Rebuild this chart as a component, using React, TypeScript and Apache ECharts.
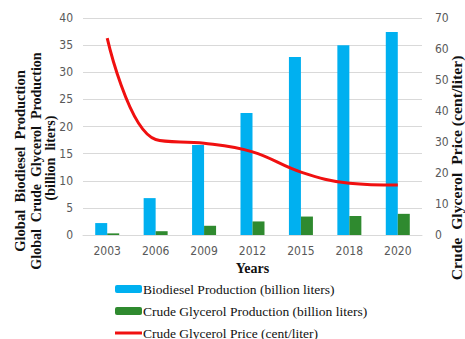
import React, { useEffect, useRef } from "react";
import * as echarts from "echarts";

const years = ["2003", "2006", "2009", "2012", "2015", "2018", "2020"];
const biodiesel = [2.2, 6.8, 16.6, 22.5, 32.8, 35.0, 37.4];
const glycerol = [0.3, 0.7, 1.7, 2.5, 3.4, 3.5, 3.9];
const price = [63.5, 30.8, 29.6, 26.8, 20.3, 16.7, 16.1];

const leftTitle1 = "Global  Biodiesel  Production";
const leftTitle2 = "Global  Crude  Glycerol  Production";
const leftTitle3 = "(billion  liters)";
const rightTitle = "Crude  Glycerol  Price (cent/liter)";
const xTitle = "Years";
const names = [
  "Biodiesel Production (billion liters)",
  "Crude Glycerol Production (billion liters)",
  "Crude Glycerol Price (cent/liter)",
];

const tickFont = "'Liberation Sans Narrow', 'DejaVu Sans Condensed', sans-serif";
const serif = "'Liberation Serif', 'Times New Roman', serif";

const legendBase = {
  orient: "horizontal",
  left: 115,
  padding: 0,
  itemWidth: 27,
  textStyle: {
    fontFamily: serif,
    fontSize: 13.5,
    lineHeight: 16,
    color: "#111",
    padding: [0, 0, 0, -4],
  },
};

function titleText(text: string, x: number, y: number, sx: number) {
  return {
    type: "text",
    x,
    y,
    rotation: Math.PI / 2,
    scaleX: sx,
    style: {
      text,
      fontFamily: serif,
      fontWeight: "bold",
      fontSize: 14,
      fill: "#111",
      align: "center",
      verticalAlign: "middle",
    },
  };
}

export default function App() {
  const ref = useRef<HTMLDivElement>(null);
  useEffect(() => {
    document.body.style.margin = "0";
    const chart = echarts.init(ref.current!, undefined, { renderer: "svg" });
    chart.setOption({
      animation: false,
      grid: { left: 83, right: 43, top: 18, bottom: 104 },
      xAxis: {
        type: "category",
        data: years,
        axisTick: { show: false },
        axisLine: { lineStyle: { color: "#d9d9d9" } },
        axisLabel: { color: "#595959", fontFamily: tickFont, fontSize: 12, margin: 10 },
        name: xTitle,
        nameLocation: "middle",
        nameGap: 26,
        nameTextStyle: { fontFamily: serif, fontWeight: "bold", fontSize: 14, color: "#111" },
      },
      yAxis: [
        {
          type: "value",
          min: 0,
          max: 40,
          interval: 5,
          axisLine: { show: false },
          axisTick: { show: false },
          splitLine: { lineStyle: { color: "#d9d9d9" } },
          axisLabel: { color: "#595959", fontFamily: tickFont, fontSize: 12, margin: 10 },
        },
        {
          type: "value",
          min: 0,
          max: 70,
          interval: 10,
          axisLine: { show: false },
          axisTick: { show: false },
          splitLine: { show: false },
          axisLabel: { color: "#595959", fontFamily: tickFont, fontSize: 12, margin: 13 },
        },
      ],
      legend: [
        { ...legendBase, top: 281, itemHeight: 8, data: [names[0]] },
        { ...legendBase, top: 303, itemHeight: 8, data: [names[1]] },
        { ...legendBase, top: 325, itemHeight: 3, icon: "rect", data: [names[2]] },
      ],
      series: [
        {
          name: names[0],
          type: "bar",
          data: biodiesel,
          barWidth: 12,
          barGap: "0%",
          itemStyle: { color: "#00b0f0" },
        },
        {
          name: names[1],
          type: "bar",
          data: glycerol,
          barWidth: 12,
          barGap: "0%",
          itemStyle: { color: "#2f8a2f" },
        },
        {
          name: names[2],
          type: "line",
          yAxisIndex: 1,
          data: price,
          smooth: 0.4,
          symbol: "none",
          lineStyle: { color: "#f01010", width: 3 },
          itemStyle: { color: "#f01010" },
          z: 5,
        },
      ],
      graphic: [
        titleText(leftTitle1, 20, 161, 1.04),
        titleText(leftTitle2, 36, 161, 1.0),
        titleText(leftTitle3, 50, 158, 1.0),
        titleText(rightTitle, 457, 168, 1.12),
      ],
    });
    return () => chart.dispose();
  }, []);
  return <div ref={ref} style={{ width: 465, height: 339 }} />;
}
